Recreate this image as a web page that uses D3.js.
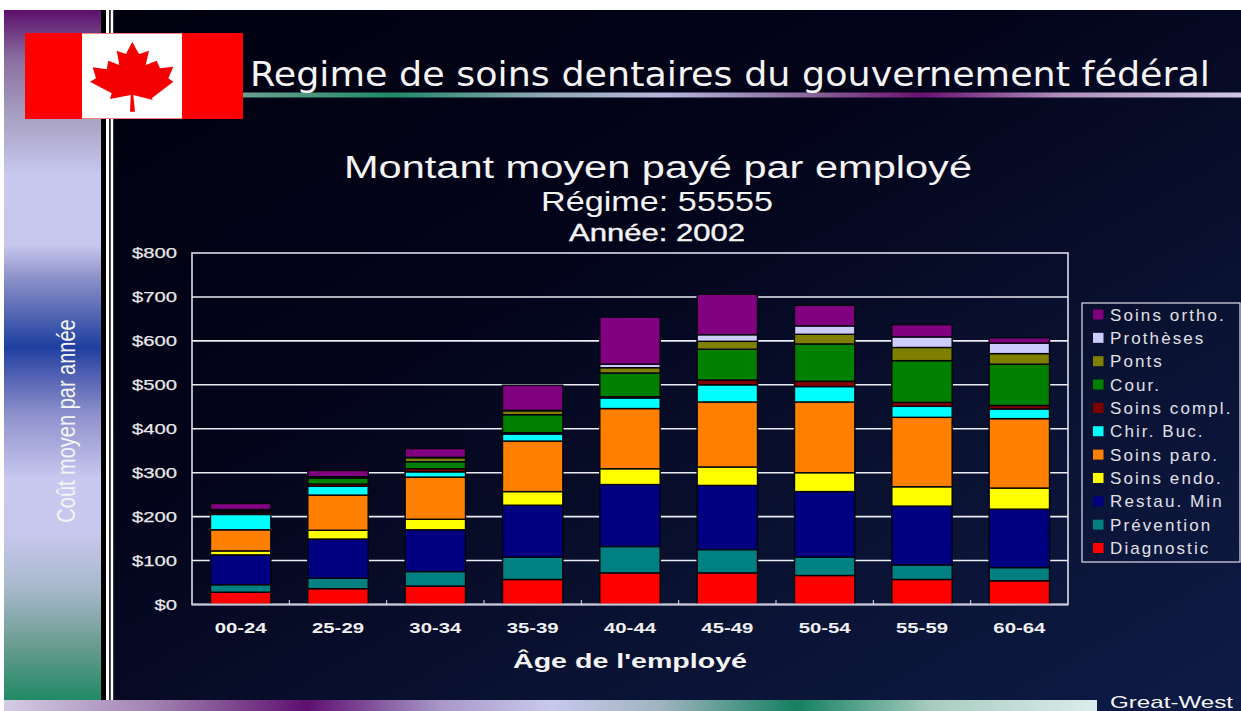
<!DOCTYPE html>
<html><head><meta charset="utf-8">
<script src="https://cdn.jsdelivr.net/npm/d3@7"></script>
<style>html,body{margin:0;padding:0;background:#fff}svg{display:block}text{font-family:"Liberation Sans",Arial,sans-serif}</style>
</head><body><svg id="c" width="1241" height="711"></svg>
<script>
const ages=["00-24","25-29","30-34","35-39","40-44","45-49","50-54","55-59","60-64"];
const diagnostic=[28,36,42,57,72,72,66,57,54];
const prevention=[17,24,33,51,60,53,42,33,30];
const restau=[68,89,95,118,141,146,149,134,133];
const endo=[9,20,24,31,36,42,43,44,48];
const paro=[48,80,96,115,137,148,161,158,158];
const chir=[35,20,12,16,24,39,35,25,22];
const compl=[4,5,7,3,3,11,12,9,8];
const cour=[3,14,16,41,54,70,85,95,94];
const ponts=[3,2,9,9,12,18,22,30,24];
const protheses=[1,1,1,1,8,15,19,24,24];
const ortho=[14,14,20,57,107,92,47,28,12];
const seriesNames=["Diagnostic","Prévention","Restau. Min","Soins endo.","Soins paro.","Chir. Buc.","Soins compl.","Cour.","Ponts","Prothèses","Soins ortho."];
const seriesValues=[diagnostic,prevention,restau,endo,paro,chir,compl,cour,ponts,protheses,ortho];
const seriesColors=["#ff0000","#008080","#000080","#ffff00","#ff8000","#00ffff","#800000","#008000","#808000","#ccccff","#800080"];
const yTicks=[0,100,200,300,400,500,600,700,800];

const svg=d3.select("#c");
const defs=svg.append("defs");
function grad(id,stops,x2,y2){
  const g=defs.append("linearGradient").attr("id",id).attr("x1",0).attr("y1",0).attr("x2",x2).attr("y2",y2);
  stops.forEach(s=>g.append("stop").attr("offset",s[0]).attr("stop-color",s[1]));
}
grad("bg",[[0,"#00000e"],[0.4,"#03041a"],[0.7,"#0a1232"],[1,"#0e1b46"]],1,1);
grad("side",[[0,"#5c0f6c"],[0.07,"#8a6ea0"],[0.16,"#a9a3c4"],[0.24,"#c8c8f0"],[0.34,"#c8c8ee"],[0.39,"#8a8fc8"],[0.489,"#1f3fa0"],[0.533,"#5563b4"],[0.588,"#8f92cc"],[0.68,"#c8c8f0"],[0.755,"#c8c8ee"],[0.838,"#a8b8cc"],[0.92,"#6a9c90"],[1,"#208a66"]],0,1);
grad("rule",[[0,"#6aa08e"],[0.15,"#1f8a68"],[0.3,"#8fa8b4"],[0.42,"#b8b8da"],[0.56,"#8c6c9c"],[0.68,"#6a1070"],[0.82,"#b090bc"],[1,"#d0c8e4"]],1,0);
grad("foot",[[0,"#d4cce4"],[0.14,"#a080b0"],[0.277,"#5e0f70"],[0.4,"#a898c8"],[0.5,"#c8c8ec"],[0.6,"#a0b4c0"],[0.725,"#148060"],[0.85,"#a8ccc0"],[1,"#dcecec"]],1,0);

svg.append("rect").attr("x",4).attr("y",10).attr("width",1237).attr("height",701).attr("fill","url(#bg)");
svg.append("rect").attr("x",4).attr("y",10).attr("width",97).attr("height",690).attr("fill","url(#side)");
svg.append("rect").attr("x",101).attr("y",10).attr("width",5).attr("height",690).attr("fill","#000");
svg.append("rect").attr("x",106).attr("y",10).attr("width",3.4).attr("height",690).attr("fill","#fff");
svg.append("rect").attr("x",109.4).attr("y",10).attr("width",1.3).attr("height",690).attr("fill","#000");
svg.append("rect").attr("x",110.7).attr("y",10).attr("width",2.5).attr("height",690).attr("fill","#fff");
svg.append("rect").attr("x",4).attr("y",700).attr("width",1093).attr("height",11).attr("fill","url(#foot)");
svg.append("rect").attr("x",243).attr("y",92.5).attr("width",998).attr("height",5).attr("fill","url(#rule)");

// flag
svg.append("rect").attr("x",25).attr("y",33).attr("width",218).attr("height",86).attr("fill","#ff0000");
svg.append("rect").attr("x",82).attr("y",33.5).attr("width",100).attr("height",85).attr("fill","#fff");
const leaf=[[132.3,41.7],[136.7,50],[139.3,54],[149,50.7],[145.7,65],[156.7,60.7],[160,68.3],[173.3,66.7],[168.3,78.3],[173.3,81.7],[151.7,98.3],[153,100],[133.3,95],[135,111.7],[130,111.7],[130.7,95],[110,99],[111.7,93.3],[90,81.7],[96,78.3],[92.7,67.3],[106.7,69.3],[108.3,60.7],[119.3,65],[116.7,50.7],[126,54]];
svg.append("path").attr("d",d3.line().curve(d3.curveLinearClosed)(leaf)).attr("fill","#f40000");

const x=d3.scaleBand().domain(ages).range([192,1068]).paddingInner(0.38).paddingOuter(0.19);
const y=d3.scaleLinear().domain([0,800]).range([604.5,253]);

// plot frame and grid
const plot=svg.append("g");
plot.append("rect").attr("x",192).attr("y",253).attr("width",876).attr("height",351.5).attr("fill","none").attr("stroke","#dcdcec").attr("stroke-width",1.6);
plot.selectAll("line.g").data(yTicks.slice(1,-1)).join("line").attr("class","g")
  .attr("x1",192).attr("x2",1068).attr("y1",d=>y(d)).attr("y2",d=>y(d)).attr("stroke","#ececf4").attr("stroke-width",1.6);

const stacked=d3.stack().keys(d3.range(seriesNames.length)).value((d,k)=>seriesValues[k][d])(d3.range(ages.length));
stacked.forEach((layer,k)=>{
  plot.append("g").selectAll("rect").data(layer).join("rect")
    .attr("x",(d,i)=>x(ages[i])).attr("width",x.bandwidth())
    .attr("y",d=>y(d[1])).attr("height",d=>y(d[0])-y(d[1]))
    .attr("fill",seriesColors[k]).attr("stroke","#04040c").attr("stroke-width",1.4);
});
plot.append("line").attr("x1",192).attr("x2",1068).attr("y1",604.5).attr("y2",604.5).attr("stroke","#c8c8d8").attr("stroke-width",1.8);

// axes
const yAxis=svg.append("g").attr("transform","translate(192,0)").call(d3.axisLeft(y).tickValues(yTicks).tickSize(0).tickPadding(15).tickFormat(d=>"$"+d));
yAxis.select(".domain").remove();
yAxis.selectAll("text").attr("fill","#e8e8e8").attr("font-size",15.5).attr("font-weight",400).attr("stroke","#e8e8e8").attr("stroke-width",0.25)
  .attr("textLength",function(){return this.textContent.length*11.25;}).attr("lengthAdjust","spacingAndGlyphs");
const xAxis=svg.append("g").attr("transform","translate(0,604.5)").call(d3.axisBottom(x).tickSize(0).tickPadding(18));
xAxis.select(".domain").remove();
xAxis.selectAll("text").attr("fill","#f0f0f0").attr("font-size",15).attr("font-weight",700)
  .attr("textLength",52).attr("lengthAdjust","spacingAndGlyphs");
const step=x.step();
svg.append("g").selectAll("line").data(ages.slice(1)).join("line")
  .attr("x1",d=>x(d)-(step-x.bandwidth())/2).attr("x2",d=>x(d)-(step-x.bandwidth())/2)
  .attr("y1",600).attr("y2",604).attr("stroke","#e0e0e8").attr("stroke-width",1);

// titles
function label(t,xx,yy,size,len,opts={}){
  return svg.append("text").attr("x",xx).attr("y",yy).attr("font-size",size).attr("fill",opts.fill||"#f4f4f4")
    .attr("text-anchor",opts.anchor||"middle").attr("font-weight",opts.weight||400)
    .attr("textLength",len).attr("lengthAdjust","spacingAndGlyphs")
    .style("font-family",opts.font||"'Liberation Sans',sans-serif").text(t);
}
label("Regime de soins dentaires du gouvernement fédéral",250,85.5,33,960,{anchor:"start",font:"'DejaVu Sans',sans-serif"});
label("Montant moyen payé par employé",658,178,31,628);
label("Régime: 55555",657,211,27,232);
label("Année: 2002",657,241,24,176).attr("stroke","#f4f4f4").attr("stroke-width",0.4);
label("Âge de l'employé",630,668,21,234,{weight:700});
label("Great-West",1110,708,17,123,{anchor:"start"});
svg.append("text").attr("transform","translate(75,421) rotate(-90) scale(0.8,1)").attr("text-anchor","middle").attr("font-size",25).attr("fill","#f4f4f4").text("Coût moyen par année");

// legend
svg.append("rect").attr("x",1082).attr("y",303).attr("width",158).attr("height",259).attr("fill","none").attr("stroke","#e0e0ec").attr("stroke-width",1.2);
const legendY=d3.scalePoint().domain(seriesNames.slice().reverse()).range([314.5,548]);
const lg=svg.append("g").selectAll("g").data(seriesNames).join("g").attr("transform",d=>`translate(1093,${legendY(d)})`);
lg.append("rect").attr("x",0).attr("y",-5).attr("width",10.5).attr("height",10).attr("fill",(d,i)=>seriesColors[i]);
lg.append("text").attr("x",17).attr("y",6).attr("font-size",17).attr("letter-spacing",2.1).attr("fill","#e0e0e6").text(d=>d);
</script></body></html>
